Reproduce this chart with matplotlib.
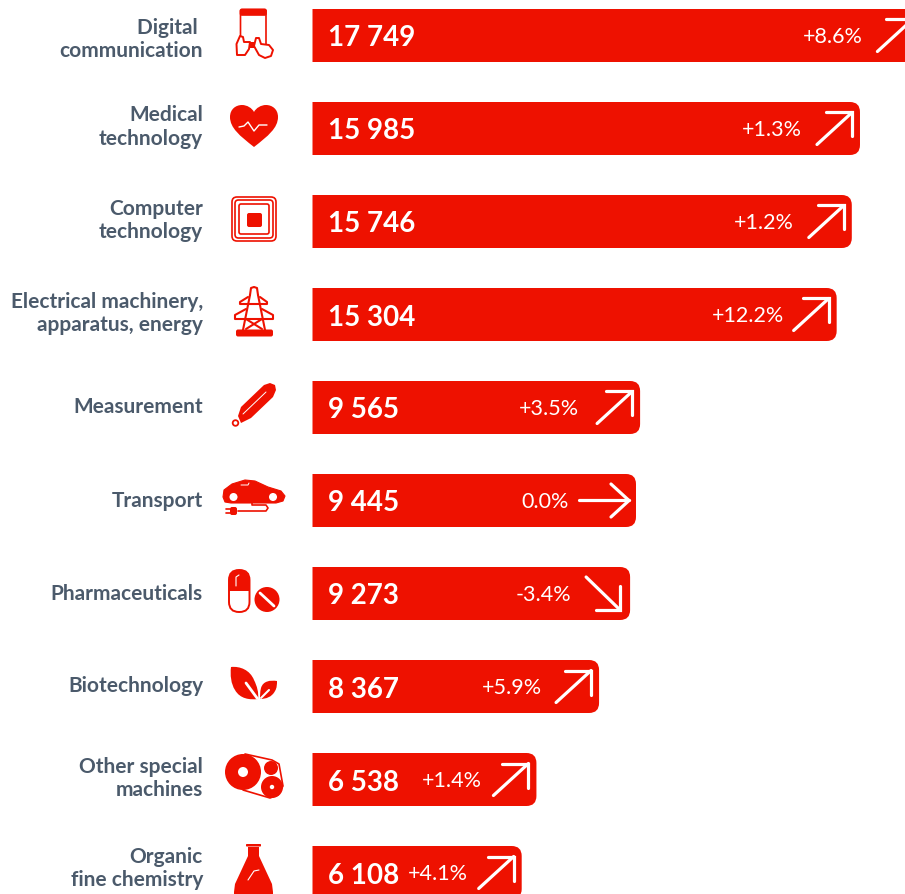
import numpy as np
import matplotlib
matplotlib.use("Agg")
import matplotlib.pyplot as plt
from matplotlib.path import Path
from matplotlib.patches import PathPatch, Circle, FancyBboxPatch, Polygon

# Chart data
labels = ["Digital \ncommunication", "Medical\ntechnology", "Computer\ntechnology",
          "Electrical machinery,\napparatus, energy", "Measurement", "Transport",
          "Pharmaceuticals", "Biotechnology", "Other special\nmachines", "Organic\nfine chemistry"]
values = [17749, 15985, 15746, 15304, 9565, 9445, 9273, 8367, 6538, 6108]
value_labels = ["17 749", "15 985", "15 746", "15 304", "9 565", "9 445", "9 273", "8 367", "6 538", "6 108"]
changes = ["+8.6%", "+1.3%", "+1.2%", "+12.2%", "+3.5%", "0.0%", "-3.4%", "+5.9%", "+1.4%", "+4.1%"]

# Layout, all in reference pixels
W, H = 905, 894
BAR_X0 = 312.5
PX_PER_UNIT = 0.03425
ROW0, ROW_STEP = 35.5, 93.0
BAR_H = 53.0
RED = "#ee1100"
GREY = "#4b5a6b"
label_nudge = [4, -1.5, -1, -1, -0.5, 1, 0.5, 0, -1, -4]
pct_gap = [58, 58, 58, 53, 61, 67, 59, 57, 55, 54]

plt.rcParams["font.family"] = ["Lato", "DejaVu Sans"]
fig = plt.figure(figsize=(W / 100, H / 100), dpi=100)
ax = fig.add_axes([0, 0, 1, 1])
ax.set_xlim(-BAR_X0 / PX_PER_UNIT, (W - BAR_X0) / PX_PER_UNIT)
ax.set_ylim((H - ROW0) / ROW_STEP, -ROW0 / ROW_STEP)
ax.axis("off")


def dx(px):
    return px / PX_PER_UNIT


def dy(px):
    return px / ROW_STEP


def rounded_bar(val, row, r=10):
    top, bot = row - dy(BAR_H / 2), row + dy(BAR_H / 2)
    verts = [(0, top), (val - dx(r), top), (val, top), (val, top + dy(r)),
             (val, bot - dy(r)), (val, bot), (val - dx(r), bot), (0, bot), (0, top)]
    codes = [Path.MOVETO, Path.LINETO, Path.CURVE3, Path.CURVE3,
             Path.LINETO, Path.CURVE3, Path.CURVE3, Path.LINETO, Path.CLOSEPOLY]
    return PathPatch(Path(verts, codes), fc=RED, ec="none")


def arrow(val, row, change):
    # trend arrow, offsets measured from the bar end
    kw = dict(color="white", lw=2.3, solid_capstyle="round", solid_joinstyle="miter")
    if change.startswith("+"):
        line = [(-43, 16), (-8, -16)]
        head = [(-34, -16), (-8, -16), (-8, 8)]
    elif change.startswith("-"):
        line = [(-44, -16.5), (-10, 16.5)]
        head = [(-10, -7.5), (-10, 16.5), (-34, 16.5)]
    else:
        line = [(-57, 0), (-7, 0)]
        head = [(-25, -16.5), (-7, 0), (-25, 16.5)]
    for pts in (line, head):
        ax.plot([val + dx(p[0]) for p in pts], [row + dy(p[1]) for p in pts], **kw)


for i, val in enumerate(values):
    ax.add_patch(rounded_bar(val, i))
    ax.text(dx(16), i + dy(3), value_labels[i], color="white", fontsize=20, fontweight="bold",
            ha="left", va="center")
    ax.text(val - dx(pct_gap[i]), i + dy(1.5), changes[i], color="white", fontsize=15.5,
            ha="right", va="center")
    arrow(val, i, changes[i])
    ax.text(dx(-109.5), i + dy(label_nudge[i]), labels[i], color=GREY, fontsize=15, fontweight="bold",
            ha="right", va="center", linespacing=1.22, multialignment="right")

# Pictograms sit on an overlay that runs in plain pixels
ic = fig.add_axes([0, 0, 1, 1])
ic.set_xlim(0, W)
ic.set_ylim(H, 0)
ic.axis("off")
ic.patch.set_alpha(0)


def rbox(x, y, w, h, r, fc="none", ec=RED, lw=1.2):
    ic.add_patch(FancyBboxPatch((x + r, y + r), w - 2 * r, h - 2 * r, boxstyle=f"round,pad={r}",
                                fc=fc, ec=ec, lw=lw))


def poly(pts, fc=RED, ec="none", lw=1.0):
    ic.add_patch(Polygon(pts, closed=True, fc=fc, ec=ec, lw=lw, joinstyle="round"))


def stroke(pts, color=RED, lw=1.2):
    xs, ys = zip(*pts)
    ic.plot(xs, ys, color=color, lw=lw, solid_capstyle="round", solid_joinstyle="round")


def disc(x, y, r, fc=RED, ec="none", lw=1.0):
    ic.add_patch(Circle((x, y), r, fc=fc, ec=ec, lw=lw))


def curved(start, *segments, fc=RED):
    # each segment is three points of a cubic
    v, c = [start], [Path.MOVETO]
    for seg in segments:
        v += list(seg)
        c += [Path.CURVE4] * 3
    ic.add_patch(PathPatch(Path(v, c), fc=fc, ec="none"))


def icon_phone():
    rbox(240.5, 9.5, 25.5, 36, 1.5)
    rbox(240.5, 9.5, 25.5, 5.5, 1.5, fc=RED)
    poly([(250, 42), (258, 42), (258, 48), (250, 48)])
    poly([(237, 55), (236.5, 44), (240, 36), (243, 37), (244, 42), (250, 42), (249, 49), (245, 55)],
         fc="white", ec=RED, lw=1.4)
    poly([(254, 46), (256, 38), (259, 38), (261, 44), (269, 45), (273, 50), (271, 56), (265, 58), (259, 55)],
         fc="white", ec=RED, lw=1.4)


def icon_heart():
    curved((254, 147),
           [(240, 136), (230, 128), (230, 117)],
           [(230, 109), (236, 105), (242, 105)],
           [(247, 105), (252, 108), (254, 112)],
           [(256, 108), (261, 105), (266, 105)],
           [(272, 105), (278, 109), (278, 117)],
           [(278, 128), (268, 136), (254, 147)])
    stroke([(239, 127), (244, 126), (248, 122), (254, 131), (259, 125), (267, 125)], color="white", lw=1.0)


def icon_chip():
    rbox(232, 197, 44, 44, 5, lw=1.2)
    rbox(235, 200, 38, 38, 3.5, lw=1.2)
    rbox(239, 204, 30, 30, 2, lw=1.2)
    rbox(247, 213, 15, 14, 2, fc=RED, ec="none")


def icon_pylon():
    lw = 1.5
    stroke([(250, 295), (251, 288), (254, 287), (257, 288), (258, 295)], lw=lw)
    stroke([(250, 295), (243, 330)], lw=lw)
    stroke([(258, 295), (265, 330)], lw=lw)
    stroke([(248, 297), (240, 302), (240, 304), (267, 304), (267, 302), (260, 297)], lw=lw)
    stroke([(246, 309), (235, 315), (235, 319), (273, 319), (273, 315), (262, 309)], lw=lw)
    stroke([(246, 319), (262, 329)], lw=lw)
    stroke([(262, 319), (246, 329)], lw=lw)
    rbox(236, 329.5, 37, 7, 2, fc=RED, ec="none")


def icon_thermo():
    poly([(238, 416), (241, 407), (264, 385), (270, 383), (275, 385), (276, 390), (273, 397), (251, 418), (241, 423)])
    disc(235.5, 423, 2.8, fc="white", ec=RED, lw=1.3)
    stroke([(243, 414), (266, 392)], color="white", lw=0.7)


def icon_car():
    poly([(223, 497), (224, 490), (232, 484), (245, 480), (255, 481), (268, 487), (281, 491), (285, 496),
          (283, 501), (276, 503), (231, 503), (225, 502)], ec=RED, lw=0.8)
    stroke([(241, 485), (248, 485), (249, 483)], color="white", lw=0.7)
    disc(233.5, 497, 5, fc="white", ec=RED, lw=1.4)
    disc(273, 497, 5, fc="white", ec=RED, lw=1.4)
    stroke([(252, 502), (252, 505), (266, 505), (268, 508), (266, 511), (238, 511)], lw=1.2)
    rbox(230, 507, 7, 8, 2, fc=RED, ec="none")
    stroke([(226, 509), (230, 509)], lw=1.2)
    stroke([(226, 513), (230, 513)], lw=1.2)


def icon_pills():
    rbox(229, 570, 20.5, 42, 10, fc="white", lw=1.4)
    curved((229, 591), [(229, 586), (229, 583), (229, 580)],
           [(229, 574), (233, 570), (239, 570)],
           [(245, 570), (249.5, 574), (249.5, 580)],
           [(249.5, 583), (249.5, 586), (249.5, 591)])
    stroke([(236, 586), (236, 577), (239, 575)], color="white", lw=0.8)
    disc(267, 599.5, 12.5)
    stroke([(260, 593), (274, 606)], color="white", lw=2.0)


def icon_leaves():
    curved((231, 667),
           [(240, 666), (250, 670), (254, 680)],
           [(257, 686), (259, 693), (258, 699)],
           [(250, 700), (240, 699), (235, 690)],
           [(231, 684), (230, 675), (231, 667)])
    curved((277, 681),
           [(270, 680), (263, 681), (261, 688)],
           [(260, 692), (260, 696), (260, 699)],
           [(266, 699), (272, 697), (275, 691)],
           [(277, 688), (277, 684), (277, 681)])
    stroke([(246, 683), (257, 698)], color="white", lw=2.0)
    stroke([(261, 698), (269, 690)], color="white", lw=1.5)


def icon_machine():
    stroke([(245, 754), (272, 760), (279, 764), (283, 786), (278, 795), (270, 798), (243, 790)], lw=1.2)
    disc(243, 772, 18)
    disc(243, 772, 5, fc="white")
    disc(271, 768, 7)
    disc(272, 787, 11)
    disc(272, 787, 2.2, fc="white")


def icon_flask():
    poly([(248, 847), (248, 856), (235, 884), (234, 892), (234, 894), (273, 894), (273, 892), (272, 884),
          (259, 856), (259, 847)])
    rbox(246, 844, 15, 2.5, 0.8, fc=RED, ec="none")
    stroke([(248, 880), (254, 871), (259, 870)], color="white", lw=0.8)


for draw in (icon_phone, icon_heart, icon_chip, icon_pylon, icon_thermo, icon_car,
             icon_pills, icon_leaves, icon_machine, icon_flask):
    draw()

fig.savefig("out.png", dpi=100, facecolor="white")
